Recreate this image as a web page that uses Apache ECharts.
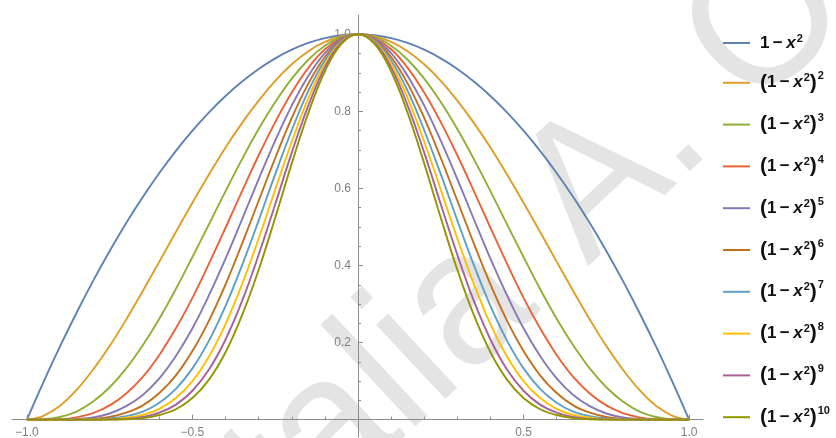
<!DOCTYPE html>
<html>
<head>
<meta charset="utf-8">
<script src="https://cdn.jsdelivr.net/npm/echarts@6/dist/echarts.min.js"></script>
<style>
    html, body { margin: 0; padding: 0; background: #fff; }
    #chart { width: 836px; height: 438px; }
</style>
</head>
<body>
<div id="chart"></div>
<script>
// x samples for the right half, the curves are even so the left half mirrors them
const xSamples = [0, 0.05, 0.1, 0.15, 0.2, 0.25, 0.3, 0.35, 0.4, 0.45, 0.5,
    0.55, 0.6, 0.65, 0.7, 0.75, 0.8, 0.85, 0.9, 0.95, 1];

const pow1 = [1, 0.9975, 0.99, 0.9775, 0.96, 0.9375, 0.91, 0.8775, 0.84, 0.7975, 0.75,
    0.6975, 0.64, 0.5775, 0.51, 0.4375, 0.36, 0.2775, 0.19, 0.0975, 0];
const pow2 = [1, 0.995, 0.980, 0.956, 0.922, 0.879, 0.828, 0.770, 0.706, 0.636, 0.563,
    0.487, 0.410, 0.334, 0.260, 0.191, 0.130, 0.077, 0.036, 0.010, 0];
const pow3 = [1, 0.993, 0.970, 0.934, 0.885, 0.824, 0.754, 0.676, 0.593, 0.507, 0.422,
    0.339, 0.262, 0.193, 0.133, 0.084, 0.047, 0.021, 0.007, 0.001, 0];
const pow4 = [1, 0.990, 0.961, 0.913, 0.849, 0.772, 0.686, 0.593, 0.498, 0.405, 0.316,
    0.237, 0.168, 0.111, 0.068, 0.037, 0.017, 0.006, 0.001, 0, 0];
const pow5 = [1, 0.988, 0.951, 0.892, 0.815, 0.724, 0.624, 0.520, 0.418, 0.323, 0.237,
    0.165, 0.107, 0.064, 0.035, 0.016, 0.006, 0.002, 0, 0, 0];
const pow6 = [1, 0.985, 0.941, 0.872, 0.783, 0.679, 0.568, 0.457, 0.351, 0.257, 0.178,
    0.115, 0.069, 0.037, 0.018, 0.007, 0.002, 0, 0, 0, 0];
const pow7 = [1, 0.983, 0.932, 0.853, 0.751, 0.637, 0.517, 0.401, 0.295, 0.205, 0.133,
    0.080, 0.044, 0.021, 0.009, 0.003, 0.001, 0, 0, 0, 0];
const pow8 = [1, 0.980, 0.923, 0.834, 0.721, 0.597, 0.470, 0.352, 0.248, 0.164, 0.100,
    0.056, 0.028, 0.012, 0.005, 0.001, 0, 0, 0, 0, 0];
const pow9 = [1, 0.978, 0.914, 0.815, 0.693, 0.559, 0.428, 0.308, 0.208, 0.130, 0.075,
    0.039, 0.018, 0.007, 0.002, 0.001, 0, 0, 0, 0, 0];
const pow10 = [1, 0.975, 0.904, 0.796, 0.665, 0.524, 0.389, 0.271, 0.175, 0.104, 0.056,
    0.027, 0.012, 0.004, 0.001, 0, 0, 0, 0, 0, 0];

const exponents = [1, 2, 3, 4, 5, 6, 7, 8, 9, 10];
const seriesNames = ['1 − x²', '(1 − x²)²', '(1 − x²)³', '(1 − x²)⁴', '(1 − x²)⁵',
    '(1 − x²)⁶', '(1 − x²)⁷', '(1 − x²)⁸', '(1 − x²)⁹', '(1 − x²)¹⁰'];
const colors = ['#5e81b5', '#e19c24', '#8fb032', '#eb6235', '#8778b3',
    '#c56e1a', '#5d9ec7', '#ffbf00', '#a5609d', '#929600'];

const xMajorTicks = [-1, -0.5, 0, 0.5, 1];
const xLabels = [-1, -0.5, 0.5, 1];
const xMinorTicks = [-1, -0.9, -0.8, -0.7, -0.6, -0.5, -0.4, -0.3, -0.2, -0.1, 0,
    0.1, 0.2, 0.3, 0.4, 0.5, 0.6, 0.7, 0.8, 0.9, 1];
const yLabels = [0.2, 0.4, 0.6, 0.8, 1];
const yMinorTicks = [0.05, 0.1, 0.15, 0.2, 0.25, 0.3, 0.35, 0.4, 0.45, 0.5,
    0.55, 0.6, 0.65, 0.7, 0.75, 0.8, 0.85, 0.9, 0.95, 1];

const curves = [pow1, pow2, pow3, pow4, pow5, pow6, pow7, pow8, pow9, pow10];

function mirrored(ys) {
    const pts = [];
    for (let i = xSamples.length - 1; i > 0; i--) pts.push([-xSamples[i], ys[i]]);
    for (let i = 0; i < xSamples.length; i++) pts.push([xSamples[i], ys[i]]);
    return pts;
}

const chart = echarts.init(document.getElementById('chart'));

// plot range, a bit wider than the data like Mathematica does
const X_MIN = -1.045, X_MAX = 1.042, Y_MIN = -0.045, Y_MAX = 1.05;
const G_LEFT = 12, G_RIGHT = 133, G_TOP = 15, G_BOTTOM = 1;
const W = 836, H = 438;
const plotW = W - G_LEFT - G_RIGHT, plotH = H - G_TOP - G_BOTTOM;
// pixel of x = 0 and y = 0, the axes cross there
const x0px = G_LEFT + (0 - X_MIN) / (X_MAX - X_MIN) * plotW;
const y0px = G_TOP + (Y_MAX - 0) / (Y_MAX - Y_MIN) * plotH;

const axisGray = '#8c8c8c';
const labelStyle = {color: '#7f7f7f', fontSize: 12, fontFamily: 'Liberation Sans'};
const fmt = v => (v < 0 ? '−' : '') + Math.abs(v).toFixed(1);
const hidden = {show: false};

function hiddenAxis(grid, min, max) {
    return {type: 'value', gridIndex: grid, min: min, max: max, show: false,
        axisLine: {onZero: false}, splitLine: hidden};
}

// watermark: one baseline, text rotated about 43 degrees
const wmFont = '192px "Liberation Sans"';
const wmAngle = 0.75;

const legendFont = 'Liberation Sans';
const option = {
    animation: false,
    grid: [
        // 0: curves
        {left: G_LEFT, right: G_RIGHT, top: G_TOP, bottom: G_BOTTOM, outerBoundsMode: 'none'},
        // 1: x axis, its bottom edge sits on y = 0
        {left: G_LEFT, right: G_RIGHT, top: G_TOP, bottom: H - y0px, outerBoundsMode: 'none'},
        // 2: y axis, its left edge sits on x = 0
        {left: x0px, right: G_RIGHT, top: G_TOP, bottom: G_BOTTOM, outerBoundsMode: 'none'}
    ],
    xAxis: [
        hiddenAxis(0, X_MIN, X_MAX),
        {
            type: 'value', gridIndex: 1, min: X_MIN, max: X_MAX, position: 'bottom',
            axisLine: {onZero: false, lineStyle: {color: axisGray, width: 1}},
            axisTick: {show: true, inside: true, length: 5, customValues: xMajorTicks,
                lineStyle: {color: axisGray}},
            axisLabel: Object.assign({margin: 7, customValues: xLabels, formatter: fmt}, labelStyle),
            splitLine: hidden
        },
        {
            type: 'value', gridIndex: 1, min: X_MIN, max: X_MAX, position: 'bottom',
            axisLine: {show: false, onZero: false},
            axisTick: {show: true, inside: true, length: 3, customValues: xMinorTicks,
                lineStyle: {color: axisGray}},
            axisLabel: hidden,
            splitLine: hidden
        },
        hiddenAxis(2, 0, 1)
    ],
    yAxis: [
        hiddenAxis(0, Y_MIN, Y_MAX),
        hiddenAxis(1, 0, 1),
        {
            type: 'value', gridIndex: 2, min: Y_MIN, max: Y_MAX, position: 'left',
            axisLine: {show: true, onZero: false, lineStyle: {color: axisGray, width: 1}},
            axisTick: {show: true, inside: true, length: 5, customValues: yLabels,
                lineStyle: {color: axisGray}},
            axisLabel: Object.assign({margin: 7, customValues: yLabels, formatter: fmt}, labelStyle),
            splitLine: hidden
        },
        {
            type: 'value', gridIndex: 2, min: Y_MIN, max: Y_MAX, position: 'left',
            axisLine: {show: false, onZero: false},
            axisTick: {show: true, inside: true, length: 3, customValues: yMinorTicks,
                lineStyle: {color: axisGray}},
            axisLabel: hidden,
            splitLine: hidden
        }
    ],
    legend: {
        orient: 'vertical',
        left: 723,
        top: 33,
        padding: 0,
        itemWidth: 27,
        itemHeight: 2,
        itemGap: 19.3,
        icon: 'rect',
        data: seriesNames,
        formatter: function (name) {
            const n = exponents[seriesNames.indexOf(name)];
            if (n === 1) return '{g|}{t|1\u2009−\u2009}{i|x}{s|2}';
            return '{g|}{p|(}{t|1\u2009−\u2009}{i|x}{s|2}{p|)}{e|' + n + '}';
        },
        textStyle: {
            color: '#111',
            rich: {
                g: {width: 5, lineHeight: 24},
                t: {fontSize: 17, fontWeight: 'bold', fontFamily: legendFont, color: '#111', lineHeight: 24},
                i: {fontSize: 17, fontWeight: 'bold', fontStyle: 'italic', fontFamily: legendFont, color: '#111', lineHeight: 24},
                p: {fontSize: 21, fontWeight: 'bold', fontFamily: legendFont, color: '#111', lineHeight: 24},
                s: {fontSize: 11, fontWeight: 'bold', fontFamily: legendFont, color: '#111', verticalAlign: 'top', padding: [2, 0, 0, 1]},
                e: {fontSize: 11, fontWeight: 'bold', fontFamily: legendFont, color: '#111', verticalAlign: 'top', padding: [0, 0, 0, 1]}
            }
        }
    },
    graphic: [
        {
            type: 'text', x: 608, y: 306, rotation: wmAngle, scaleX: 0.96, z: -10, silent: true,
            style: {text: 'Natalia ', align: 'right', verticalAlign: 'bottom', font: wmFont, fill: '#e4e4e4'}
        },
        {
            type: 'text', x: 617, y: 298, rotation: wmAngle, scaleX: 0.96, z: -10, silent: true,
            style: {text: 'A. O', align: 'left', verticalAlign: 'bottom', font: wmFont, fill: '#e4e4e4'}
        }
    ],
    series: curves.map((ys, k) => ({
        name: seriesNames[k],
        type: 'line',
        xAxisIndex: 0,
        yAxisIndex: 0,
        data: mirrored(ys),
        smooth: 0.4,
        symbol: 'none',
        lineStyle: {width: 1.9, color: colors[k]},
        itemStyle: {color: colors[k]},
        z: 2 + k
    }))
};

chart.setOption(option);
</script>
</body>
</html>
